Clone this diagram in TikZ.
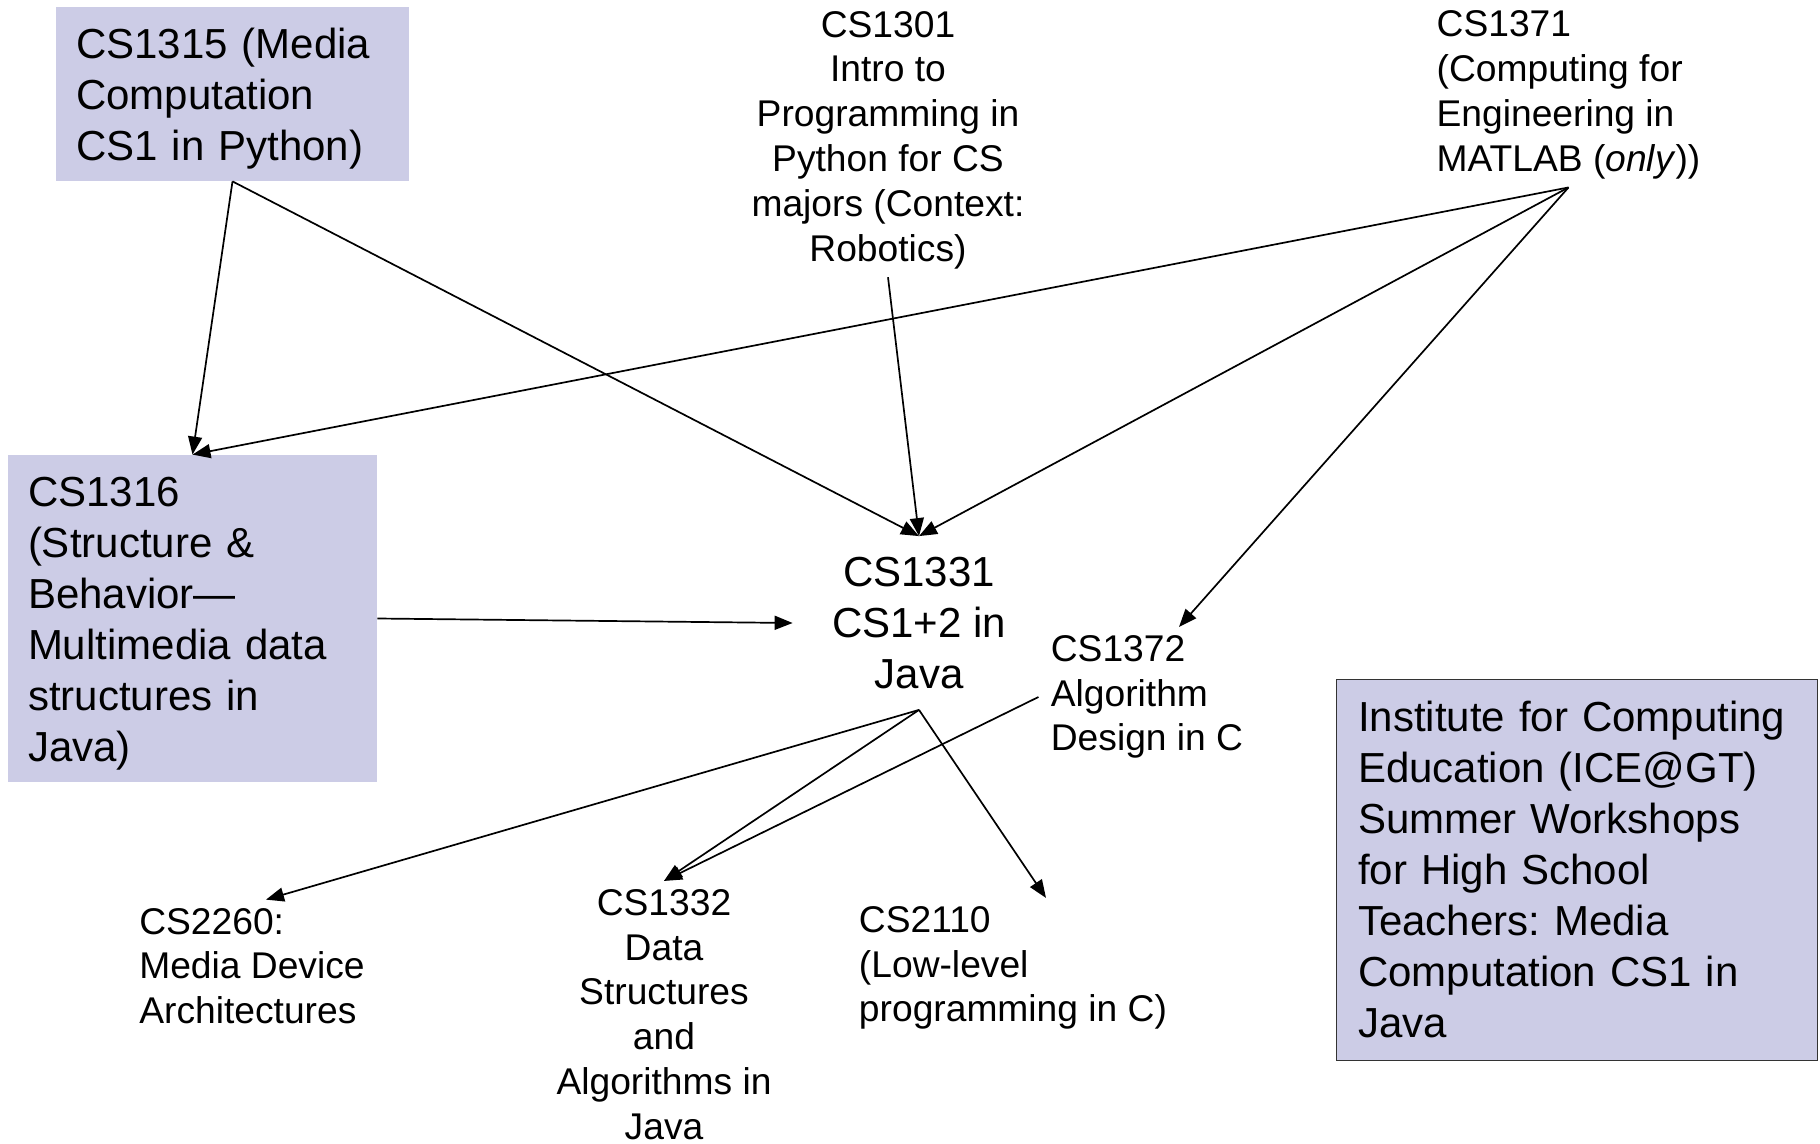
\documentclass[tikz,border=0pt]{standalone}
\usepackage{fontspec}
\setmainfont{Liberation Sans}
\usetikzlibrary{arrows.meta}
\definecolor{boxfill}{RGB}{204,204,230}
\definecolor{boxline}{RGB}{51,51,51}
\frenchspacing

\begin{document}
\begin{tikzpicture}[x=0.5pt, y=-0.5pt,
  bigfont/.style={font=\fontsize{21}{25.5}\selectfont},
  smallfont/.style={font=\fontsize{18.6}{22.4}\selectfont},
  shaded/.style={bigfont, fill=boxfill, align=left, inner xsep=10pt, inner ysep=0pt},
  plain/.style={smallfont, inner xsep=6pt, inner ysep=4pt},
  prereq/.style={-{Triangle[length=9pt,width=7pt]}, line width=0.85pt}]

  \newcommand\lift{\rule{0pt}{20pt}}

  \useasboundingbox (0,0) rectangle (1820,1144);

  % shaded courses
  \node[shaded, text width=156.5pt, minimum height=87pt] (c1315) at (232.5,94)
  {\lift CS1315 (Media\\ Computation\\ CS1 in Python)};
  \node[shaded, text width=164.5pt, minimum height=163.5pt] (c1316) at (192.5,618.5)
  {\lift CS1316\\ (Structure \&\\ Behavior—\\ Multimedia data\\ structures in\\ Java)};
  \node[shaded, draw=boxline, line width=0.5pt, text width=218.5pt, inner xsep=11pt,
    minimum height=190.5pt] (ice) at (1576.5,869.5)
  {Institute for Computing\\ Education (ICE@GT)\\ Summer Workshops\\ for High School\\
    Teachers: Media\\ Computation CS1 in\\ Java};

  % the java course in the middle
  \node[bigfont, align=center, minimum width=126pt, minimum height=86.5pt] (c1331) at (919,623)
  {CS1331\\ CS1+2 in\\ Java};

  % plain courses
  \node[plain, align=center] (c1301) at (888,140)
  {CS1301\\ Intro to\\ Programming in\\ Python for CS\\ majors (Context:\\ Robotics)};
  \node[plain, align=left] (c1371) at (1568.5,95)
  {CS1371\\ (Computing for\\ Engineering in\\ MATLAB (\textit{only}))};
  \node[plain, align=left] (c1372) at (1147,697)
  {CS1372\\ Algorithm\\ Design in C};
  \node[plain, align=left] (c2260) at (252,966)
  {CS2260:\\ Media Device\\ Architectures};
  \node[plain, align=center] (c1332) at (664,1014.5)
  {CS1332\\ Data\\ Structures\\ and\\ Algorithms in\\ Java};
  \node[plain, align=left] (c2110) at (1013,968)
  {CS2110\\ (Low-level\\ programming in C)};

  % into CS1316 and CS1331
  \draw[prereq] (c1371.south) -- (c1316.north);
  \draw[prereq] (c1371.south) -- (c1331.north);
  \draw[prereq] (c1371.south) -- ([xshift=16pt]c1372.north);
  \draw[prereq] (c1315.south) -- (c1316.north);
  \draw[prereq] (c1315.south) -- (c1331.north);
  \draw[prereq] (c1301.south) -- (c1331.north);
  \draw[prereq] (c1316.east) -- (c1331.west);

  % out of CS1331 and CS1372
  \draw[prereq] (c1331.south) -- ([xshift=7pt]c2260.north);
  \draw[prereq] (c1331.south) -- (c1332.north);
  \draw[prereq] (c1331.south) -- ([xshift=16.5pt]c2110.north);
  \draw[prereq] (c1372.west) -- (c1332.north);

\end{tikzpicture}
\end{document}
